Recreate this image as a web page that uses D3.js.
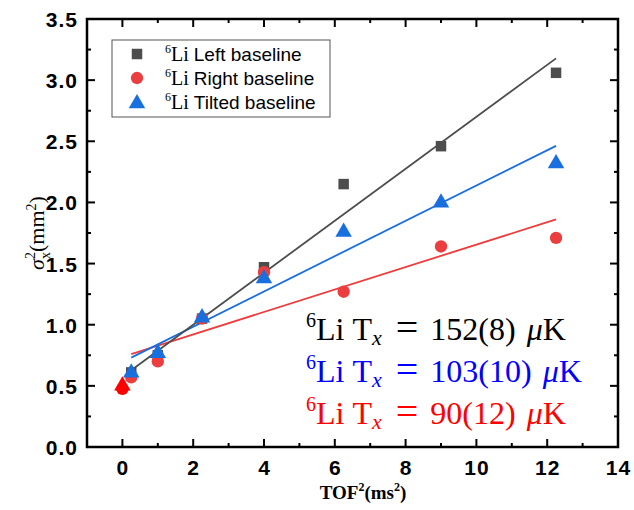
<!DOCTYPE html>
<html><head><meta charset="utf-8">
<script src="https://cdn.jsdelivr.net/npm/d3@7/dist/d3.min.js"></script>
<style>body{margin:0;background:#fff}svg{display:block}</style>
</head><body>
<svg id="c" width="634" height="510"></svg>
<script>
// ---- data ----
const tof2 = [0.25, 1, 2.25, 4, 6.25, 9, 12.25];
const leftBaseline   = [0.61, 0.75, 1.05, 1.47, 2.15, 2.46, 3.06];
const rightBaseline  = [0.57, 0.70, 1.05, 1.43, 1.27, 1.64, 1.71];
const tiltedBaseline = [0.62, 0.78, 1.07, 1.39, 1.77, 2.01, 2.33];
const originX = [0, 0];
const originY = [0.475, 0.50];
const originShape = ["circle", "triangle"];
const fitRange = [0.25, 12.25];
// order: left, right, tilted
const fitIntercept = [0.575, 0.737, 0.695];
const fitSlope = [0.2125, 0.0918, 0.1443];
const seriesNames = ["Left baseline", "Right baseline", "Tilted baseline"];
const seriesColors = ["#4d4d4d", "#ec3e3e", "#1a6fdf"];
const fitColors = ["#4d4d4d", "#ef3b3b", "#1a6fdf"];
const seriesShapes = ["square", "circle", "triangle"];
const xTicks = [0, 2, 4, 6, 8, 10, 12, 14];
const yTicks = [0.0, 0.5, 1.0, 1.5, 2.0, 2.5, 3.0, 3.5];
const annoTemps = ["152(8)", "103(10)", "90(12)"];
const annoColors = ["#000000", "#0000ff", "#ff0000"];

const svg = d3.select("#c");
const L = 87, R = 618, T = 19, B = 447;
const x = d3.scaleLinear().domain([-1, 14]).range([L, R]);
const y = d3.scaleLinear().domain([0, 3.5]).range([B, T]);

function symSize(shape) { return shape === "triangle" ? 118 : shape === "square" ? 110 : 120; }
function sym(shape) {
  const t = shape === "square" ? d3.symbolSquare : shape === "circle" ? d3.symbolCircle : d3.symbolTriangle;
  return d3.symbol().type(t).size(symSize(shape))();
}

// fit lines (drawn red, blue, gray)
[1, 2, 0].forEach(i => {
  svg.append("line")
    .attr("x1", x(fitRange[0])).attr("y1", y(fitIntercept[i] + fitSlope[i] * fitRange[0]))
    .attr("x2", x(fitRange[1])).attr("y2", y(fitIntercept[i] + fitSlope[i] * fitRange[1]))
    .attr("stroke", fitColors[i]).attr("stroke-width", 1.8);
});

// points
const allSeries = [leftBaseline, rightBaseline, tiltedBaseline];
allSeries.forEach((vals, i) => {
  svg.append("g").selectAll("path").data(vals).join("path")
    .attr("d", sym(seriesShapes[i]))
    .attr("transform", (d, j) => `translate(${x(tof2[j])},${y(d) + (seriesShapes[i] === "triangle" ? 1.5 : 0)})`)
    .attr("fill", seriesColors[i]);
});
// origin points
svg.append("g").selectAll("path").data(originY).join("path")
  .attr("d", (d, j) => sym(originShape[j]))
  .attr("transform", (d, j) => `translate(${x(originX[j])},${y(d)})`)
  .attr("fill", "#ff0000");

// axes labels
const sans = "'Liberation Sans', Arial, sans-serif";
const gx = svg.append("g").attr("transform", `translate(0,${B})`)
  .call(d3.axisBottom(x).tickValues(xTicks).tickSize(0).tickPadding(13).tickFormat(d3.format("d")));
gx.select(".domain").remove();
gx.selectAll("text").attr("font-family", sans).attr("font-weight", "bold").attr("font-size", 21)
  .attr("letter-spacing", 1).attr("fill", "#000");
const gy = svg.append("g").attr("transform", `translate(${L},0)`)
  .call(d3.axisLeft(y).tickValues(yTicks).tickSize(0).tickPadding(9).tickFormat(d3.format(".1f")));
gy.select(".domain").remove();
gy.selectAll("text").attr("font-family", sans).attr("font-weight", "bold").attr("font-size", 21)
  .attr("letter-spacing", 1).attr("fill", "#000").attr("dy", "0.36em");

// ticks inward on all four sides
const xMinor = d3.range(-1, 14.01, 1).filter(v => !xTicks.includes(v) && v > -1 && v < 14);
const yMinor = d3.range(0.25, 3.5, 0.5);
const tk = svg.append("g").attr("stroke", "#000").attr("stroke-width", 2);
xTicks.forEach(v => {
  tk.append("line").attr("x1", x(v)).attr("x2", x(v)).attr("y1", B).attr("y2", B - 8);
  tk.append("line").attr("x1", x(v)).attr("x2", x(v)).attr("y1", T).attr("y2", T + 8);
});
xMinor.forEach(v => {
  tk.append("line").attr("x1", x(v)).attr("x2", x(v)).attr("y1", B).attr("y2", B - 4);
  tk.append("line").attr("x1", x(v)).attr("x2", x(v)).attr("y1", T).attr("y2", T + 4);
});
yTicks.forEach(v => {
  tk.append("line").attr("y1", y(v)).attr("y2", y(v)).attr("x1", L).attr("x2", L + 8);
  tk.append("line").attr("y1", y(v)).attr("y2", y(v)).attr("x1", R).attr("x2", R - 8);
});
yMinor.forEach(v => {
  tk.append("line").attr("y1", y(v)).attr("y2", y(v)).attr("x1", L).attr("x2", L + 4);
  tk.append("line").attr("y1", y(v)).attr("y2", y(v)).attr("x1", R).attr("x2", R - 4);
});
svg.append("rect").attr("x", L).attr("y", T).attr("width", R - L).attr("height", B - T)
  .attr("fill", "none").attr("stroke", "#000").attr("stroke-width", 2.5);

// legend
const serif = "'Liberation Serif', 'DejaVu Serif', serif";
const lg = svg.append("g");
lg.append("rect").attr("x", 112).attr("y", 40).attr("width", 218).attr("height", 77)
  .attr("fill", "#fff").attr("stroke", "#555").attr("stroke-width", 1);
const rowY = [54, 78, 102];
seriesNames.forEach((n, i) => {
  lg.append("path").attr("d", sym(seriesShapes[i]))
    .attr("transform", `translate(137,${rowY[i] + (seriesShapes[i] === "triangle" ? 1.5 : 0)})`)
    .attr("fill", seriesColors[i]);
  const t = lg.append("text").attr("x", 165).attr("y", rowY[i] + 7);
  t.append("tspan").attr("font-family", serif).attr("font-size", 12).attr("dy", -8).text("6");
  t.append("tspan").attr("font-family", serif).attr("font-size", 20).attr("dy", 8).text("Li");
  t.append("tspan").attr("font-family", sans).attr("font-size", 19).attr("dx", 5).text(n);
});

// annotations
const annoY = [340, 382, 424];
annoTemps.forEach((v, i) => {
  const t = svg.append("text").attr("x", 306).attr("y", annoY[i])
    .attr("font-family", serif).attr("font-size", 32).attr("fill", annoColors[i]);
  t.append("tspan").attr("font-family", serif).attr("font-size", 20).attr("dy", -13).text("6");
  t.append("tspan").attr("font-family", serif).attr("dy", 13).text("Li");
  t.append("tspan").attr("font-family", serif).attr("dx", 8).text("T");
  t.append("tspan").attr("font-family", serif).attr("font-style", "italic").attr("font-size", 22).attr("dy", 5).text("x");
  t.append("tspan").attr("font-family", serif).attr("font-size", 40).attr("dy", -4).attr("dx", 14).text("=");
  t.append("tspan").attr("font-family", serif).attr("dy", -1).attr("dx", 12).text(v);
  t.append("tspan").attr("font-family", serif).attr("font-style", "italic").attr("dx", 11).text("μ");
  t.append("tspan").attr("font-family", serif).text("K");
});

// axis titles
const xt = svg.append("text").attr("x", 363).attr("y", 499).attr("text-anchor", "middle")
  .attr("font-family", serif).attr("font-weight", "bold").attr("font-size", 19);
xt.append("tspan").text("TOF");
xt.append("tspan").attr("font-size", 12).attr("dy", -8).text("2");
xt.append("tspan").attr("dy", 8).text("(ms");
xt.append("tspan").attr("font-size", 12).attr("dy", -8).text("2");
xt.append("tspan").attr("dy", 8).text(")");

const yt = svg.append("text").attr("transform", "translate(44,233) rotate(-90)").attr("text-anchor", "middle")
  .attr("font-family", serif).attr("font-size", 22);
yt.append("tspan").attr("font-style", "italic").text("σ");
yt.append("tspan").attr("font-size", 14).attr("dy", -9).text("2");
yt.append("tspan").attr("font-size", 14).attr("dx", -7).attr("dy", 15).text("x");
yt.append("tspan").attr("dy", -6).text("(mm");
yt.append("tspan").attr("font-size", 14).attr("dy", -8).text("2");
yt.append("tspan").attr("dy", 8).text(")");
</script>
</body></html>
